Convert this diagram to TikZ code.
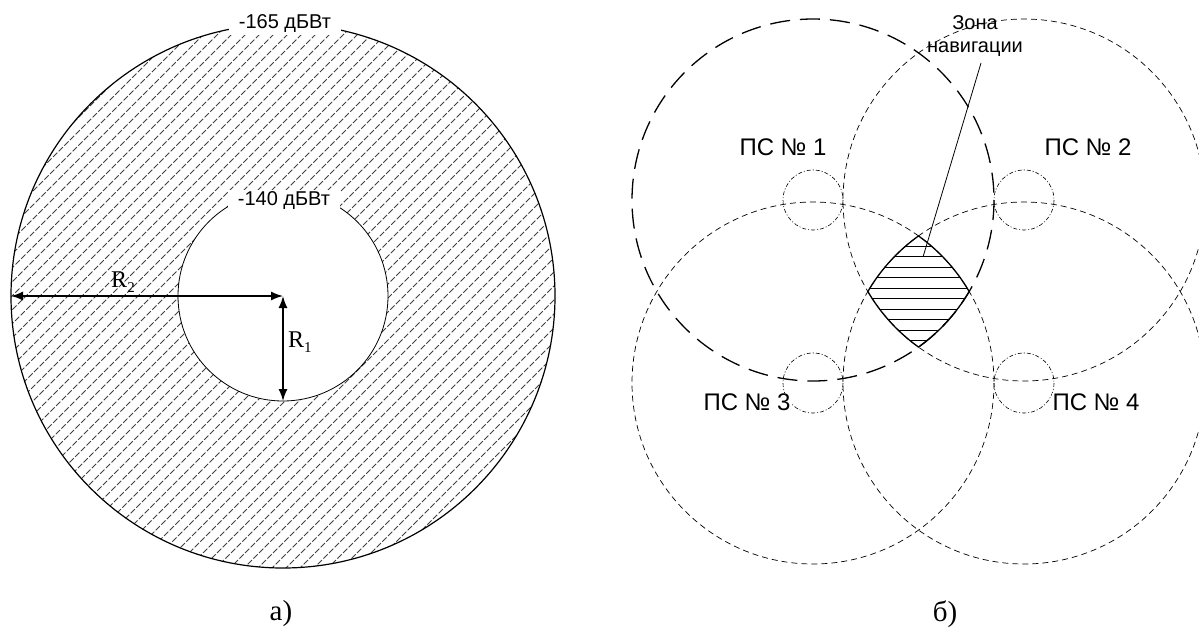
\documentclass[tikz,border=0pt]{standalone}
\usepackage{fontspec}
\setmainfont{Liberation Serif}
\newfontfamily\labelsans{Liberation Sans}
\usetikzlibrary{arrows.meta}
\begin{document}
\begin{tikzpicture}[x=1pt,y=-1pt,
  hatch/.style={black!75,line width=0.9pt,dash pattern=on 6pt off 2pt},
  dimline/.style={line width=1.4pt,{Latex[length=12pt,width=9pt]}-{Latex[length=12pt,width=9pt]}},
  levellabel/.style={font=\labelsans\fontsize{20}{23}\selectfont,fill=white,inner xsep=10pt,inner ysep=2pt},
  pslabel/.style={font=\labelsans\fontsize{24}{27}\selectfont,fill=white,inner sep=1pt},
  serifl/.style={font=\fontsize{24}{28}\selectfont,inner sep=1pt},
  caption/.style={font=\fontsize{29}{33}\selectfont,inner sep=1pt},
  coverring/.style={line width=1.3pt,dash pattern=on 20pt off 10pt},
  rangering/.style={line width=0.7pt,dash pattern=on 6pt off 4pt},
  stationring/.style={line width=0.6pt,dash pattern=on 4pt off 2pt on 1pt off 2pt},
  zoneedge/.style={line width=1.3pt}
]
\useasboundingbox (0,0) rectangle (1199,629);

% ---------- a) power-level annulus ----------
\coordinate (O) at (283,296);
\coordinate (Rleft) at (11,296);
\coordinate (Rbottom) at (283,401);

\begin{scope}[even odd rule]
  \clip (O) circle[radius=272] (O) circle[radius=105];
  \foreach \c in {0,14,...,1134}
    \draw[hatch] (\c,0) -- (\c-629,629);
\end{scope}
\draw[line width=1.2pt] (O) circle[radius=272];
\draw[line width=0.8pt] (O) circle[radius=105];

\draw[dimline] (Rleft) -- (O);
\draw[dimline] (O) -- (Rbottom);

\node[levellabel] (outerlevel) at (285,24) {-165 дБВт};
\node[levellabel] (innerlevel) at (284,201) {-140 дБВт};
\node[serifl] (rtwo) at (123,282) {R\raisebox{-0.45ex}{\fontsize{15}{15}\selectfont 2}};
\node[serifl,anchor=west] (rone) at (287,342) {R\raisebox{-0.45ex}{\fontsize{15}{15}\selectfont 1}};
\node[caption] (capa) at (281,614) {а)};

% ---------- б) four stations ----------
\coordinate (S1) at (813,200);
\coordinate (S2) at (1024,200);
\coordinate (S3) at (813,383);
\coordinate (S4) at (1024,383);

\draw[coverring] (S1) circle[radius=181];
\draw[rangering] (S2) circle[radius=181];
\draw[rangering] (S3) circle[radius=181];
\draw[rangering] (S4) circle[radius=181];

\foreach \s in {S1,S2,S3,S4}
  \draw[stationring] (\s) circle[radius=30];

% navigation zone: common part of the four service areas
\begin{scope}
  \clip (867.83,291.5)
    arc[start angle=210.37,end angle=234.35,radius=181]
    arc[start angle=-54.35,end angle=-30.37,radius=181]
    arc[start angle=30.37,end angle=54.35,radius=181]
    arc[start angle=125.65,end angle=149.63,radius=181] -- cycle;
  \foreach \y in {246,256.5,...,346}
    \draw[line width=0.8pt] (860,\y) -- (980,\y);
\end{scope}
\draw[zoneedge] (867.83,291.5)
    arc[start angle=210.37,end angle=234.35,radius=181]
    arc[start angle=-54.35,end angle=-30.37,radius=181]
    arc[start angle=30.37,end angle=54.35,radius=181]
    arc[start angle=125.65,end angle=149.63,radius=181] -- cycle;

\node[pslabel] (ps1) at (783,147) {ПС № 1};
\node[pslabel] (ps2) at (1088,147) {ПС № 2};
\node[pslabel] (ps3) at (747,402) {ПС № 3};
\node[pslabel] (ps4) at (1096,402) {ПС № 4};

\node[font=\labelsans\fontsize{20}{23}\selectfont,align=center,inner sep=1pt] (zonelabel) at (975,36) {Зона\\навигации};
\coordinate (zonepoint) at (923,257);
\coordinate (zonefoot) at (981,63);
\draw[line width=0.8pt] (zonepoint) -- (zonefoot);

\node[caption] (capb) at (945,614) {б)};
\end{tikzpicture}
\end{document}
